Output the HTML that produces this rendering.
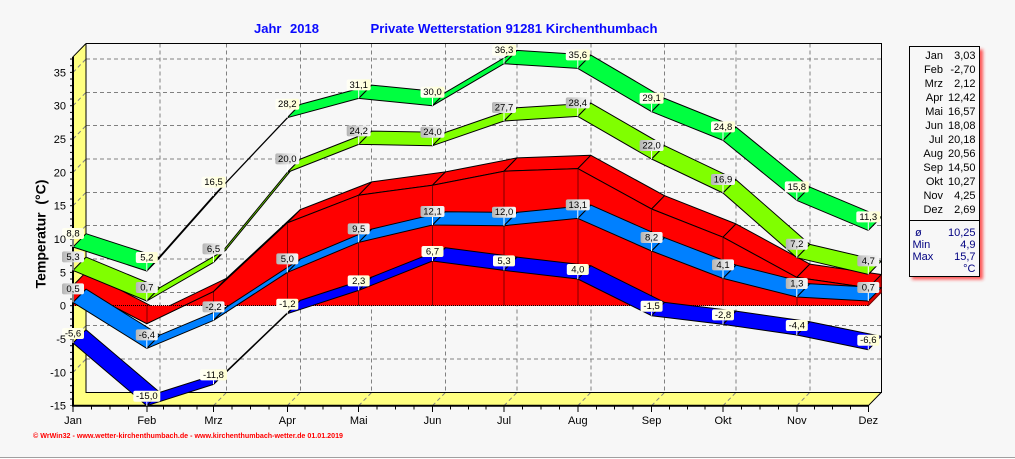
<!DOCTYPE html>
<html><head><meta charset="utf-8"><style>
html,body{margin:0;padding:0;background:#f7f7f7;}
svg{display:block;font-family:"Liberation Sans",Arial,sans-serif;}
.g{stroke:#808080;stroke-width:1;stroke-dasharray:4 3;fill:none;}
.k{stroke:#000;fill:none;}
.rib polygon{stroke:#000;stroke-width:1;stroke-linejoin:round;}
.lb text{font-size:9.5px;text-anchor:middle;fill:#000;}
.pin{stroke:#fff;stroke-width:1;}
.ax{font-size:11px;fill:#000;}
.lg{font-size:11px;fill:#000;text-anchor:end;}
.lg2{font-size:11px;fill:#000080;}
</style></head><body>
<svg width="1015" height="459" viewBox="0 0 1015 459" xmlns="http://www.w3.org/2000/svg">
<defs>
<linearGradient id="gy" x1="0" x2="1" y1="0" y2="0"><stop offset="0" stop-color="#fffff6"/><stop offset="1" stop-color="#ffffd2"/></linearGradient>
<linearGradient id="gg" x1="0" x2="1" y1="0" y2="0"><stop offset="0" stop-color="#b4b4b4"/><stop offset="0.6" stop-color="#e6e6e6"/><stop offset="1" stop-color="#f6f6f6"/></linearGradient>
<pattern id="tk" patternUnits="userSpaceOnUse" x="0" y="0" width="10" height="6.6667"><rect x="0" y="5.2" width="10" height="1" fill="#000"/></pattern>
<filter id="sh" x="-20%" y="-20%" width="140%" height="140%"><feGaussianBlur stdDeviation="1.6"/></filter>
</defs>
<rect x="0" y="0" width="1015" height="459" fill="#f7f7f7"/>

<!-- walls -->
<polygon points="73,56.8 86,43.5 86,392.4 73,405.7" fill="#ffff80"/>
<polygon points="73,405.7 86,392.4 881.3,392.4 868.3,405.7" fill="#ffff80"/>

<!-- back wall grid -->
<g class="g" shape-rendering="crispEdges">
<path d="M86 359.1H881.3M86 325.7H881.3M86 292.4H881.3M86 259.1H881.3M86 225.7H881.3M86 192.4H881.3M86 159.1H881.3M86 125.7H881.3M86 92.4H881.3M86 59.1H881.3"/>
<path d="M159.8 43.5V392.4M226.5 43.5V392.4M300.3 43.5V392.4M371.7 43.5V392.4M445.5 43.5V392.4M517 43.5V392.4M590.8 43.5V392.4M664.6 43.5V392.4M736 43.5V392.4M809.8 43.5V392.4"/>
</g>
<g class="g">
<path d="M73 372.4L86 359.1M73 339L86 325.7M73 305.7L86 292.4M73 272.4L86 259.1M73 239L86 225.7M73 205.7L86 192.4M73 172.4L86 159.1M73 139L86 125.7M73 105.7L86 92.4M73 72.4L86 59.1"/>
<path d="M146.8 405.7L159.8 392.4M213.5 405.7L226.5 392.4M287.3 405.7L300.3 392.4M358.7 405.7L371.7 392.4M432.5 405.7L445.5 392.4M504 405.7L517 392.4M577.8 405.7L590.8 392.4M651.6 405.7L664.6 392.4M723 405.7L736 392.4M796.8 405.7L809.8 392.4"/>
</g>
<!-- frame -->
<g class="k" stroke-width="1">
<path d="M86 43.5H881.3V392.4H86V43.5" shape-rendering="crispEdges"/>
<path d="M73 56.8L86 43.5M868.3 405.7L881.3 392.4"/>
</g>

<!-- red area -->
<g class="rib">
<polygon fill="#e00000" style="stroke:#700000" points="868.3,305.7 868.3,287.8 881.3,274.5 881.3,292.4"/>
<polygon fill="#ff0000" points="73,285.5 146.8,323.7 159.8,310.4 86,272.2"/>
<polygon fill="#ff0000" points="146.8,323.7 213.5,291.6 226.5,278.3 159.8,310.4"/>
<polygon fill="#ff0000" points="213.5,291.6 287.3,222.9 300.3,209.6 226.5,278.3"/>
<polygon fill="#ff0000" points="287.3,222.9 358.7,195.2 371.7,181.9 300.3,209.6"/>
<polygon fill="#ff0000" points="358.7,195.2 432.5,185.2 445.5,171.9 371.7,181.9"/>
<polygon fill="#ff0000" points="432.5,185.2 504,171.2 517,157.9 445.5,171.9"/>
<polygon fill="#ff0000" points="504,171.2 577.8,168.6 590.8,155.3 517,157.9"/>
<polygon fill="#ff0000" points="577.8,168.6 651.6,209 664.6,195.7 590.8,155.3"/>
<polygon fill="#ff0000" points="651.6,209 723,237.2 736,223.9 664.6,195.7"/>
<polygon fill="#ff0000" points="723,237.2 796.8,277.4 809.8,264.1 736,223.9"/>
<polygon fill="#ff0000" points="796.8,277.4 868.3,287.8 881.3,274.5 809.8,264.1"/>
<polygon fill="#ff0000" style="stroke:none" points="73,305.7 73,285.5 146.8,323.7 213.5,291.6 287.3,222.9 358.7,195.2 432.5,185.2 504,171.2 577.8,168.6 651.6,209 723,237.2 796.8,277.4 868.3,287.8 868.3,305.7"/>
</g>
<polyline class="k" points="73,285.5 146.8,323.7 213.5,291.6 287.3,222.9 358.7,195.2 432.5,185.2 504,171.2 577.8,168.6 651.6,209 723,237.2 796.8,277.4 868.3,287.8"/>
<path class="k" stroke-dasharray="1 1" shape-rendering="crispEdges" d="M73 305.7H868.3M146.8 305.7V323.7M213.5 305.7V291.6M287.3 305.7V222.9M358.7 305.7V195.2M432.5 305.7V185.2M504 305.7V171.2M577.8 305.7V168.6M651.6 305.7V209M723 305.7V237.2M796.8 305.7V277.4"/>

<!-- absolute min -->
<g class="rib" fill="#0000ff">
<polygon points="73,343 146.8,405.7 159.8,392.4 86,329.7"/>
<polygon points="146.8,405.7 213.5,384.4 226.5,371.1 159.8,392.4"/>
<polygon points="213.5,384.4 287.3,313.7 300.3,300.4 226.5,371.1"/>
<polygon points="287.3,313.7 358.7,290.4 371.7,277.1 300.3,300.4"/>
<polygon points="358.7,290.4 432.5,261 445.5,247.7 371.7,277.1"/>
<polygon points="432.5,261 504,270.4 517,257.1 445.5,247.7"/>
<polygon points="504,270.4 577.8,279 590.8,265.7 517,257.1"/>
<polygon points="577.8,279 651.6,315.7 664.6,302.4 590.8,265.7"/>
<polygon points="651.6,315.7 723,324.4 736,311.1 664.6,302.4"/>
<polygon points="723,324.4 796.8,335 809.8,321.7 736,311.1"/>
<polygon points="796.8,335 868.3,349.7 881.3,336.4 809.8,321.7"/>
</g>
<!-- mean min -->
<g class="rib" fill="#0080ff">
<polygon points="73,302.4 146.8,348.4 159.8,335.1 86,289.1"/>
<polygon points="146.8,348.4 213.5,320.4 226.5,307.1 159.8,335.1"/>
<polygon points="213.5,320.4 287.3,272.4 300.3,259.1 226.5,307.1"/>
<polygon points="287.3,272.4 358.7,242.4 371.7,229.1 300.3,259.1"/>
<polygon points="358.7,242.4 432.5,225 445.5,211.7 371.7,229.1"/>
<polygon points="432.5,225 504,225.7 517,212.4 445.5,211.7"/>
<polygon points="504,225.7 577.8,218.4 590.8,205.1 517,212.4"/>
<polygon points="577.8,218.4 651.6,251 664.6,237.7 590.8,205.1"/>
<polygon points="651.6,251 723,278.4 736,265.1 664.6,237.7"/>
<polygon points="723,278.4 796.8,297 809.8,283.7 736,265.1"/>
<polygon points="796.8,297 868.3,301 881.3,287.7 809.8,283.7"/>
</g>
<!-- mean max -->
<g class="rib" fill="#80ff00">
<polygon points="73,270.4 146.8,301 159.8,287.7 86,257.1"/>
<polygon points="146.8,301 213.5,262.4 226.5,249.1 159.8,287.7"/>
<polygon points="213.5,262.4 287.3,172.4 300.3,159.1 226.5,249.1"/>
<polygon points="287.3,172.4 358.7,144.4 371.7,131.1 300.3,159.1"/>
<polygon points="358.7,144.4 432.5,145.7 445.5,132.4 371.7,131.1"/>
<polygon points="432.5,145.7 504,121 517,107.7 445.5,132.4"/>
<polygon points="504,121 577.8,116.4 590.8,103.1 517,107.7"/>
<polygon points="577.8,116.4 651.6,159 664.6,145.7 590.8,103.1"/>
<polygon points="651.6,159 723,193 736,179.7 664.6,145.7"/>
<polygon points="723,193 796.8,257.7 809.8,244.4 736,179.7"/>
<polygon points="796.8,257.7 868.3,274.4 881.3,261.1 809.8,244.4"/>
</g>
<!-- absolute max -->
<g class="rib" fill="#00ff40">
<polygon points="73,247 146.8,271 159.8,257.7 86,233.7"/>
<polygon points="146.8,271 213.5,195.7 226.5,182.4 159.8,257.7"/>
<polygon points="213.5,195.7 287.3,117.7 300.3,104.4 226.5,182.4"/>
<polygon points="287.3,117.7 358.7,98.4 371.7,85.1 300.3,104.4"/>
<polygon points="358.7,98.4 432.5,105.7 445.5,92.4 371.7,85.1"/>
<polygon points="432.5,105.7 504,63.7 517,50.4 445.5,92.4"/>
<polygon points="504,63.7 577.8,68.4 590.8,55.1 517,50.4"/>
<polygon points="577.8,68.4 651.6,111.7 664.6,98.4 590.8,55.1"/>
<polygon points="651.6,111.7 723,140.4 736,127.1 664.6,98.4"/>
<polygon points="723,140.4 796.8,200.4 809.8,187.1 736,127.1"/>
<polygon points="796.8,200.4 868.3,230.4 881.3,217.1 809.8,187.1"/>
</g>

<!-- front axes -->
<rect x="70" y="56.8" width="3" height="349" fill="url(#tk)"/>
<path class="k" stroke-width="2" d="M73 56.8V406.7M72 405.7H868.3"/>
<path class="k" shape-rendering="crispEdges" d="M73 405.7V412M146.8 405.7V412M213.5 405.7V412M287.3 405.7V412M358.7 405.7V412M432.5 405.7V412M504 405.7V412M577.8 405.7V412M651.6 405.7V412M723 405.7V412M796.8 405.7V412M868.3 405.7V412"/>
<path class="k" shape-rendering="crispEdges" d="M91.45 405.7v4M109.9 405.7v4M128.35 405.7v4M163.5 405.7v4M180.15 405.7v4M196.8 405.7v4M231.95 405.7v4M250.4 405.7v4M268.85 405.7v4M305.15 405.7v4M323 405.7v4M340.85 405.7v4M377.15 405.7v4M395.6 405.7v4M414.05 405.7v4M450.4 405.7v4M468.25 405.7v4M486.1 405.7v4M522.45 405.7v4M540.9 405.7v4M559.35 405.7v4M596.25 405.7v4M614.7 405.7v4M633.15 405.7v4M669.45 405.7v4M687.3 405.7v4M705.15 405.7v4M741.45 405.7v4M759.9 405.7v4M778.35 405.7v4M814.7 405.7v4M832.55 405.7v4M850.4 405.7v4"/>

<!-- labels: absolute max (yellow) -->
<g class="lb">
<g fill="url(#gy)">
<rect x="62" y="228" width="22" height="11" rx="2"/><rect x="135.8" y="252" width="22" height="11" rx="2"/><rect x="201.5" y="176.7" width="24" height="11" rx="2"/><rect x="275.3" y="98.7" width="24" height="11" rx="2"/><rect x="346.7" y="79.4" width="24" height="11" rx="2"/><rect x="420.5" y="86.7" width="24" height="11" rx="2"/><rect x="492" y="44.7" width="24" height="11" rx="2"/><rect x="565.8" y="49.4" width="24" height="11" rx="2"/><rect x="639.6" y="92.7" width="24" height="11" rx="2"/><rect x="711" y="121.4" width="24" height="11" rx="2"/><rect x="784.8" y="181.4" width="24" height="11" rx="2"/><rect x="856.3" y="211.4" width="24" height="11" rx="2"/>
<rect x="62" y="328" width="22" height="11" rx="2"/><rect x="133.3" y="390.7" width="27" height="11" rx="2"/><rect x="200" y="369.4" width="27" height="11" rx="2"/><rect x="276.3" y="298.7" width="22" height="11" rx="2"/><rect x="347.7" y="275.4" width="22" height="11" rx="2"/><rect x="421.5" y="246" width="22" height="11" rx="2"/><rect x="493" y="255.4" width="22" height="11" rx="2"/><rect x="566.8" y="264" width="22" height="11" rx="2"/><rect x="640.6" y="300.7" width="22" height="11" rx="2"/><rect x="712" y="309.4" width="22" height="11" rx="2"/><rect x="785.8" y="320" width="22" height="11" rx="2"/><rect x="857.3" y="334.7" width="22" height="11" rx="2"/>
</g>
<g fill="url(#gg)">
<rect x="62" y="251.4" width="22" height="11" rx="2"/><rect x="135.8" y="282" width="22" height="11" rx="2"/><rect x="202.5" y="243.4" width="22" height="11" rx="2"/><rect x="275.3" y="153.4" width="24" height="11" rx="2"/><rect x="346.7" y="125.4" width="24" height="11" rx="2"/><rect x="420.5" y="126.7" width="24" height="11" rx="2"/><rect x="492" y="102" width="24" height="11" rx="2"/><rect x="565.8" y="97.4" width="24" height="11" rx="2"/><rect x="639.6" y="140" width="24" height="11" rx="2"/><rect x="711" y="174" width="24" height="11" rx="2"/><rect x="785.8" y="238.7" width="22" height="11" rx="2"/><rect x="857.3" y="255.4" width="22" height="11" rx="2"/>
<rect x="62" y="283.4" width="22" height="11" rx="2"/><rect x="135.8" y="329.4" width="22" height="11" rx="2"/><rect x="202.5" y="301.4" width="22" height="11" rx="2"/><rect x="276.3" y="253.4" width="22" height="11" rx="2"/><rect x="347.7" y="223.4" width="22" height="11" rx="2"/><rect x="420.5" y="206" width="24" height="11" rx="2"/><rect x="492" y="206.7" width="24" height="11" rx="2"/><rect x="565.8" y="199.4" width="24" height="11" rx="2"/><rect x="640.6" y="232" width="22" height="11" rx="2"/><rect x="712" y="259.4" width="22" height="11" rx="2"/><rect x="785.8" y="278" width="22" height="11" rx="2"/><rect x="857.3" y="282" width="22" height="11" rx="2"/>
</g>
<path class="pin" d="M73 239V247M146.8 263V271M213.5 187.7V195.7M287.3 109.7V117.7M358.7 90.4V98.4M432.5 97.7V105.7M504 55.7V63.7M577.8 60.4V68.4M651.6 103.7V111.7M723 132.4V140.4M796.8 192.4V200.4M868.3 222.4V230.4
M73 262.4V270.4M146.8 293V301M213.5 254.4V262.4M287.3 164.4V172.4M358.7 136.4V144.4M432.5 137.7V145.7M504 113V121M577.8 108.4V116.4M651.6 151V159M723 185V193M796.8 249.7V257.7M868.3 266.4V274.4
M73 294.4V302.4M146.8 340.4V348.4M213.5 312.4V320.4M287.3 264.4V272.4M358.7 234.4V242.4M432.5 217V225M504 217.7V225.7M577.8 210.4V218.4M651.6 243V251M723 270.4V278.4M796.8 289V297M868.3 293V301
M73 339V343M146.8 401.7V405.7M213.5 380.4V384.4M287.3 309.7V313.7M358.7 286.4V290.4M432.5 257V261M504 266.4V270.4M577.8 275V279M651.6 311.7V315.7M723 320.4V324.4M796.8 331V335M868.3 345.7V349.7"/>
<text x="73" y="236.5">8,8</text><text x="146.8" y="260.5">5,2</text><text x="213.5" y="185.2">16,5</text><text x="287.3" y="107.2">28,2</text><text x="358.7" y="87.9">31,1</text><text x="432.5" y="95.2">30,0</text><text x="504" y="53.2">36,3</text><text x="577.8" y="57.9">35,6</text><text x="651.6" y="101.2">29,1</text><text x="723" y="129.9">24,8</text><text x="796.8" y="189.9">15,8</text><text x="868.3" y="219.9">11,3</text>
<text x="73" y="259.9">5,3</text><text x="146.8" y="290.5">0,7</text><text x="213.5" y="251.9">6,5</text><text x="287.3" y="161.9">20,0</text><text x="358.7" y="133.9">24,2</text><text x="432.5" y="135.2">24,0</text><text x="504" y="110.5">27,7</text><text x="577.8" y="105.9">28,4</text><text x="651.6" y="148.5">22,0</text><text x="723" y="182.5">16,9</text><text x="796.8" y="247.2">7,2</text><text x="868.3" y="263.9">4,7</text>
<text x="73" y="291.9">0,5</text><text x="146.8" y="337.9">-6,4</text><text x="213.5" y="309.9">-2,2</text><text x="287.3" y="261.9">5,0</text><text x="358.7" y="231.9">9,5</text><text x="432.5" y="214.5">12,1</text><text x="504" y="215.2">12,0</text><text x="577.8" y="207.9">13,1</text><text x="651.6" y="240.5">8,2</text><text x="723" y="267.9">4,1</text><text x="796.8" y="286.5">1,3</text><text x="868.3" y="290.5">0,7</text>
<text x="73" y="336.5">-5,6</text><text x="146.8" y="399.2">-15,0</text><text x="213.5" y="377.9">-11,8</text><text x="287.3" y="307.2">-1,2</text><text x="358.7" y="283.9">2,3</text><text x="432.5" y="254.5">6,7</text><text x="504" y="263.9">5,3</text><text x="577.8" y="272.5">4,0</text><text x="651.6" y="309.2">-1,5</text><text x="723" y="317.9">-2,8</text><text x="796.8" y="328.5">-4,4</text><text x="868.3" y="343.2">-6,6</text>
</g>

<!-- axis labels -->
<g class="ax" text-anchor="end">
<text x="66" y="76.4">35</text><text x="66" y="109.7">30</text><text x="66" y="143">25</text><text x="66" y="176.4">20</text><text x="66" y="209.7">15</text><text x="66" y="243">10</text><text x="66" y="276.4">5</text><text x="66" y="309.7">0</text><text x="66" y="343">-5</text><text x="66" y="376.4">-10</text><text x="66" y="409.7">-15</text>
</g>
<g class="ax" text-anchor="middle">
<text x="73" y="424">Jan</text><text x="146.8" y="424">Feb</text><text x="213.5" y="424">Mrz</text><text x="287.3" y="424">Apr</text><text x="358.7" y="424">Mai</text><text x="432.5" y="424">Jun</text><text x="504" y="424">Jul</text><text x="577.8" y="424">Aug</text><text x="651.6" y="424">Sep</text><text x="723" y="424">Okt</text><text x="796.8" y="424">Nov</text><text x="868.3" y="424">Dez</text>
</g>
<text transform="translate(45.5,234) rotate(-90)" text-anchor="middle" font-size="14" font-weight="bold" fill="#000" style="white-space:pre">Temperatur  (°C)</text>

<!-- title -->
<g font-size="13" font-weight="bold" fill="#0a0aff">
<text x="254" y="33">Jahr</text><text x="290" y="33">2018</text>
<text x="370.5" y="33" textLength="287" lengthAdjust="spacingAndGlyphs">Private Wetterstation 91281 Kirchenthumbach</text>
</g>

<!-- footer -->
<text x="33" y="438" font-size="7.5" font-weight="bold" fill="#ff0000" textLength="310" lengthAdjust="spacingAndGlyphs">© WrWin32 - www.wetter-kirchenthumbach.de - www.kirchenthumbach-wetter.de  01.01.2019</text>
<path d="M0 457.5H1015" stroke="#a0a0a0" stroke-width="1"/>
<path d="M0 458.5H1015" stroke="#ffffff" stroke-width="1"/>

<!-- legend -->
<rect x="912" y="49.5" width="71" height="230" fill="#ff2020" opacity="0.75" filter="url(#sh)"/>
<rect x="909.5" y="46.5" width="70" height="230" fill="#f7f7f7" stroke="#000" stroke-width="1"/>
<path d="M909.5 220.5H979.5" stroke="#000" stroke-width="1"/>
<g class="lg">
<text x="943" y="59">Jan</text><text x="975.5" y="59">3,03</text>
<text x="943" y="73">Feb</text><text x="975.5" y="73">-2,70</text>
<text x="943" y="87">Mrz</text><text x="975.5" y="87">2,12</text>
<text x="943" y="101">Apr</text><text x="975.5" y="101">12,42</text>
<text x="943" y="115">Mai</text><text x="975.5" y="115">16,57</text>
<text x="943" y="129">Jun</text><text x="975.5" y="129">18,08</text>
<text x="943" y="143">Jul</text><text x="975.5" y="143">20,18</text>
<text x="943" y="157">Aug</text><text x="975.5" y="157">20,56</text>
<text x="943" y="171">Sep</text><text x="975.5" y="171">14,50</text>
<text x="943" y="185">Okt</text><text x="975.5" y="185">10,27</text>
<text x="943" y="199">Nov</text><text x="975.5" y="199">4,25</text>
<text x="943" y="213">Dez</text><text x="975.5" y="213">2,69</text>
</g>
<g class="lg2">
<text x="915" y="236">ø</text><text x="975.5" y="236" text-anchor="end">10,25</text>
<text x="912.5" y="248">Min</text><text x="975.5" y="248" text-anchor="end">4,9</text>
<text x="912.5" y="260">Max</text><text x="975.5" y="260" text-anchor="end">15,7</text>
<text x="975.5" y="272" text-anchor="end">°C</text>
</g>
</svg>
</body></html>
